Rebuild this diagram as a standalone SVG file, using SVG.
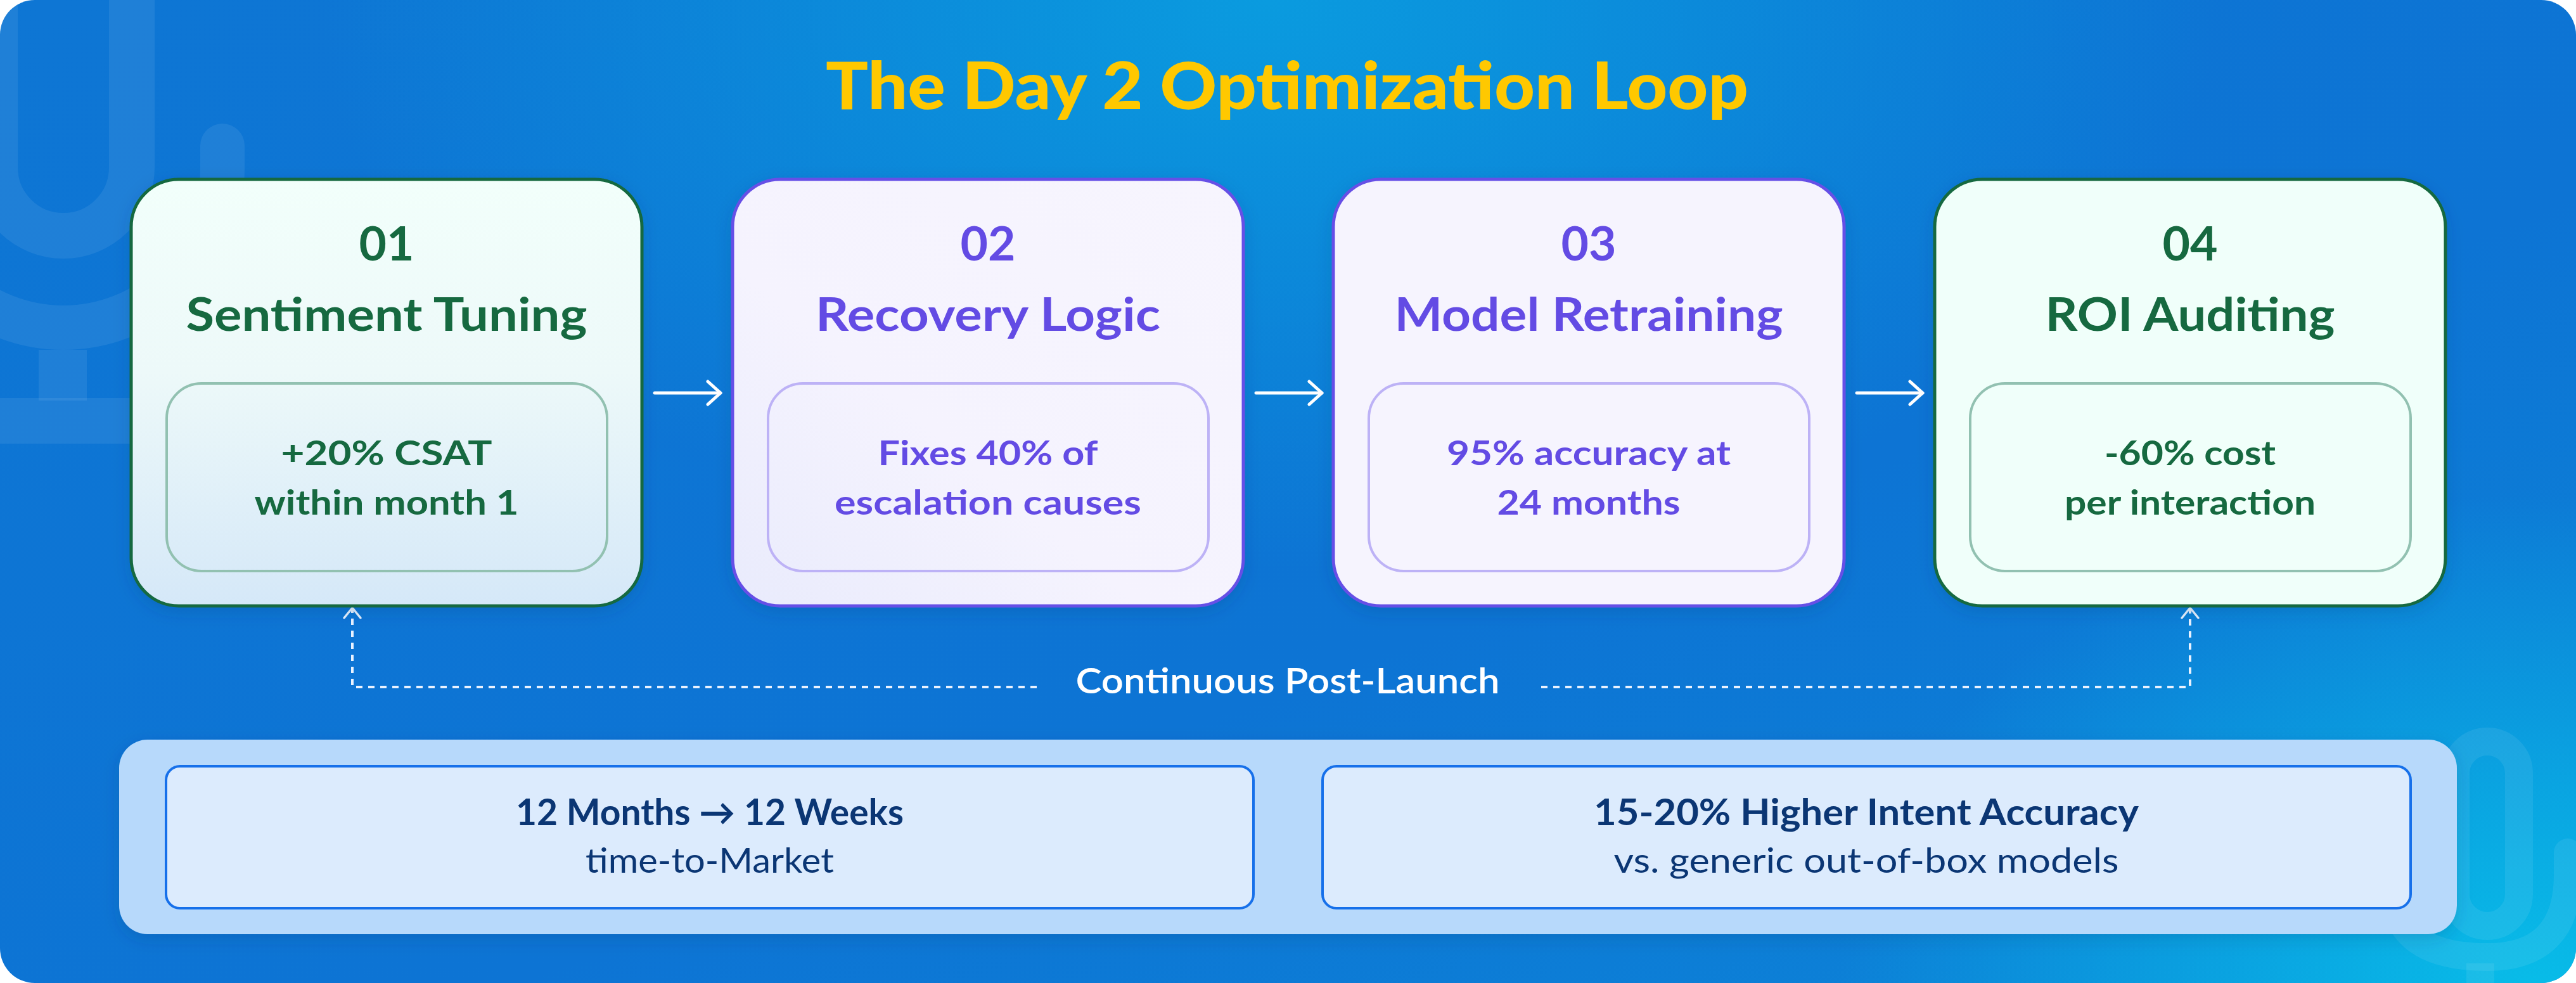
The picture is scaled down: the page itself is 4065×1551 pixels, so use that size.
<svg xmlns="http://www.w3.org/2000/svg" width="4065" height="1551" viewBox="0 0 4065 1551">
<defs>
<linearGradient id="bgBase" x1="0" y1="0" x2="1" y2="1">
<stop offset="0" stop-color="#0E76D4"/>
<stop offset="0.6" stop-color="#0D74D4"/>
<stop offset="1" stop-color="#0C86D8"/>
</linearGradient>
<radialGradient id="glowTop" cx="2000" cy="0" r="1500" gradientUnits="userSpaceOnUse" gradientTransform="translate(2000 0) scale(1 0.6) translate(-2000 0)">
<stop offset="0" stop-color="#0A9BDF" stop-opacity="1"/>
<stop offset="1" stop-color="#0A9BDF" stop-opacity="0"/>
</radialGradient>
<radialGradient id="glowBR" cx="4000" cy="1551" r="1100" gradientUnits="userSpaceOnUse" gradientTransform="translate(4000 1551) scale(1 0.7) translate(-4000 -1551)">
<stop offset="0" stop-color="#08BCE8" stop-opacity="1"/>
<stop offset="1" stop-color="#08BCE8" stop-opacity="0"/>
</radialGradient>
<linearGradient id="greenFill1" x1="0" y1="0" x2="0" y2="1">
<stop offset="0" stop-color="#F2FFFB"/>
<stop offset="0.45" stop-color="#EDF9F9"/>
<stop offset="1" stop-color="#D5E8F8"/>
</linearGradient>
<linearGradient id="purpleFill" x1="1" y1="0" x2="0" y2="1">
<stop offset="0" stop-color="#F7F5FE"/>
<stop offset="0.6" stop-color="#F5F3FE"/>
<stop offset="1" stop-color="#E9EBFC"/>
</linearGradient>
<filter id="shadow" x="-10%" y="-10%" width="120%" height="130%">
<feDropShadow dx="0" dy="8" stdDeviation="12" flood-color="#06356F" flood-opacity="0.18"/>
</filter>
<marker id="chev" viewBox="0 0 26 42" refX="23" refY="21" markerWidth="26" markerHeight="42" markerUnits="userSpaceOnUse" orient="auto">
<path d="M3,3 L23,21 L3,39" fill="none" stroke="#FFFFFF" stroke-width="5" stroke-linecap="round" stroke-linejoin="round"/>
</marker>
<marker id="chevS" viewBox="0 0 22 32" refX="19" refY="16" markerWidth="22" markerHeight="32" markerUnits="userSpaceOnUse" orient="auto">
<path d="M3,3 L19,16 L3,29" fill="none" stroke="#E9F2FF" stroke-width="3.5" stroke-linecap="round" stroke-linejoin="round"/>
</marker>
<clipPath id="bgClip"><rect x="0" y="0" width="4065" height="1551" rx="55" ry="55"/></clipPath>
</defs>
<style>
text { font-family: "Lato", "Liberation Sans", sans-serif; text-anchor: middle; }
.title { font-size: 103px; font-weight: 900; fill: #FFC800; }
.num { font-size: 75px; font-weight: 700; }
.head { font-size: 72px; font-weight: 700; }
.body { font-size: 54px; font-weight: 700; }
.green text { fill: #14693F; }
.purple text { fill: #644CE4; }
.card-g { fill: #F0FFFA; stroke: #14693F; stroke-width: 5; }
.card-p { fill: url(#purpleFill); stroke: #6650E6; stroke-width: 5; }
.inner-g { fill: none; stroke: #92C1B1; stroke-width: 4; }
.inner-p { fill: none; stroke: #BDB2F6; stroke-width: 4; }
.flow { fill: none; stroke: #FFFFFF; stroke-width: 5; stroke-linecap: round; marker-end: url(#chev); }
.loop { fill: none; stroke: #E9F2FF; stroke-width: 4; stroke-dasharray: 10 9; marker-end: url(#chevS); }
.label { font-size: 55px; font-weight: 600; fill: #FFFFFF; }
.stat { fill: #DCEBFD; stroke: #1670EA; stroke-width: 4; }
.statH { font-size: 57px; font-weight: 700; fill: #0B3674; }
.statS { font-size: 54px; font-weight: 400; fill: #0B3674; }
.wm { fill: none; stroke: #FFFFFF; stroke-opacity: 0.075; }
</style>

<g id="background" clip-path="url(#bgClip)">
<rect x="0" y="0" width="4065" height="1551" fill="url(#bgBase)"/>
<rect x="0" y="0" width="4065" height="1551" fill="url(#glowTop)"/>
<rect x="0" y="0" width="4065" height="1551" fill="url(#glowBR)"/>
<g id="watermark-tl">
<rect x="-8" y="-160" width="216" height="532" rx="108" class="wm" stroke-width="72"/>
<path d="M -151 230 L -151 266 A 251 251 0 0 0 351 266 L 351 230" class="wm" stroke-width="70" stroke-linecap="round"/>
<rect x="61" y="552" width="76" height="80" fill="#FFFFFF" fill-opacity="0.075"/>
<rect x="-100" y="628" width="420" height="72" fill="#FFFFFF" fill-opacity="0.075"/>
</g>
<g id="watermark-br">
<rect x="3875" y="1170" width="100" height="291" rx="50" class="wm" stroke-width="44"/>
<path d="M 4052 1345 L 4052 1380 Q 4052 1510 3925 1510 Q 3820 1510 3790 1455" class="wm" stroke-width="44" stroke-linecap="round"/>
<rect x="3892" y="1520" width="44" height="40" fill="#FFFFFF" fill-opacity="0.075"/>
</g>
</g>

<text id="title" class="title" x="2031" y="172" textLength="1456" lengthAdjust="spacingAndGlyphs">The Day 2 Optimization Loop</text>

<g id="connectors">
<line class="flow" x1="1033" y1="620" x2="1137" y2="620"/>
<line class="flow" x1="1982" y1="620" x2="2086" y2="620"/>
<line class="flow" x1="2930" y1="620" x2="3034" y2="620"/>
<path class="loop" d="M 1636 1084 H 556 V 959"/>
<path class="loop" d="M 2432 1084 H 3456 V 959"/>
</g>

<g id="node-01" class="green" filter="url(#shadow)">
<rect x="207" y="283" width="806" height="673" rx="75" class="card-g" fill="url(#greenFill1)" style="fill:url(#greenFill1)"/>
<rect x="263" y="605" width="695" height="296" rx="55" class="inner-g"/>
<text class="num" x="610" y="411">01</text>
<text class="head" x="610" y="522" textLength="633" lengthAdjust="spacingAndGlyphs">Sentiment Tuning</text>
<text class="body" x="610" y="734" textLength="333" lengthAdjust="spacingAndGlyphs">+20% CSAT</text>
<text class="body" x="610" y="812" textLength="417" lengthAdjust="spacingAndGlyphs">within month 1</text>
</g>

<g id="node-02" class="purple" filter="url(#shadow)">
<rect x="1156" y="283" width="806" height="673" rx="75" class="card-p"/>
<rect x="1212" y="605" width="695" height="296" rx="55" class="inner-p"/>
<text class="num" x="1559" y="411">02</text>
<text class="head" x="1559" y="522" textLength="544" lengthAdjust="spacingAndGlyphs">Recovery Logic</text>
<text class="body" x="1559" y="734" textLength="347" lengthAdjust="spacingAndGlyphs">Fixes 40% of</text>
<text class="body" x="1559" y="812" textLength="484" lengthAdjust="spacingAndGlyphs">escalation causes</text>
</g>

<g id="node-03" class="purple" filter="url(#shadow)">
<rect x="2104" y="283" width="806" height="673" rx="75" class="card-p" style="fill:#F6F4FE"/>
<rect x="2160" y="605" width="695" height="296" rx="55" class="inner-p"/>
<text class="num" x="2507" y="411">03</text>
<text class="head" x="2507" y="522" textLength="613" lengthAdjust="spacingAndGlyphs">Model Retraining</text>
<text class="body" x="2507" y="734" textLength="448" lengthAdjust="spacingAndGlyphs">95% accuracy at</text>
<text class="body" x="2507" y="812" textLength="289" lengthAdjust="spacingAndGlyphs">24 months</text>
</g>

<g id="node-04" class="green" filter="url(#shadow)">
<rect x="3053" y="283" width="806" height="673" rx="75" class="card-g"/>
<rect x="3109" y="605" width="695" height="296" rx="55" class="inner-g"/>
<text class="num" x="3456" y="411">04</text>
<text class="head" x="3456" y="522" textLength="457" lengthAdjust="spacingAndGlyphs">ROI Auditing</text>
<text class="body" x="3456" y="734" textLength="270" lengthAdjust="spacingAndGlyphs">-60% cost</text>
<text class="body" x="3456" y="812" textLength="396" lengthAdjust="spacingAndGlyphs">per interaction</text>
</g>

<text id="loop-label" class="label" x="2032" y="1094" textLength="669" lengthAdjust="spacingAndGlyphs">Continuous Post-Launch</text>

<g id="summary-panel" filter="url(#shadow)">
<rect x="188" y="1167" width="3689" height="307" rx="45" fill="#B7D9FB"/>
</g>
<g id="stat-1">
<rect x="262" y="1209" width="1716" height="224" rx="22" class="stat"/>
<text class="statH" x="1120" y="1302" textLength="612" lengthAdjust="spacingAndGlyphs">12 Months → 12 Weeks</text>
<text class="statS" x="1120" y="1377" textLength="392" lengthAdjust="spacingAndGlyphs">time-to-Market</text>
</g>
<g id="stat-2">
<rect x="2087" y="1209" width="1717" height="224" rx="22" class="stat"/>
<text class="statH" x="2945" y="1302" textLength="860" lengthAdjust="spacingAndGlyphs">15-20% Higher Intent Accuracy</text>
<text class="statS" x="2945" y="1377" textLength="797" lengthAdjust="spacingAndGlyphs">vs. generic out-of-box models</text>
</g>
</svg>
